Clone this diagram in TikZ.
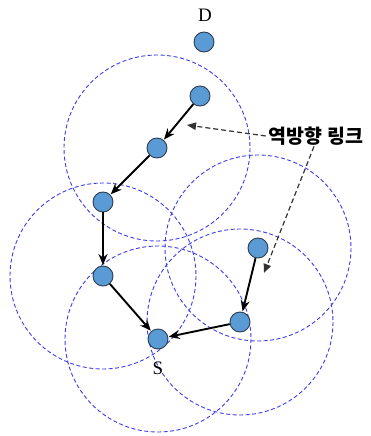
\documentclass[tikz,border=0pt]{standalone}
\usepackage{fontspec}
\setmainfont{Liberation Serif}
\newfontfamily\krfont{Noto Sans CJK KR}
\usetikzlibrary{arrows.meta}
\definecolor{nodefill}{RGB}{91,155,213}
\definecolor{nodeline}{RGB}{45,60,80}
\definecolor{rangeblue}{RGB}{60,60,235}
\tikzset{
  sensor/.style={circle,fill=nodefill,draw=nodeline,line width=0.9pt,minimum size=20pt,inner sep=0pt},
  radiorange/.style={draw=rangeblue,dash pattern=on 4pt off 2.5pt,line width=0.9pt},
  hop/.style={draw=black,line width=1.9pt,-{Stealth[length=11pt,width=9pt]},shorten >=0.5pt},
  revnote/.style={draw=black!80,dash pattern=on 5pt off 3pt,line width=1.2pt,-{Triangle[length=9pt,width=7.5pt]}},
  lbl/.style={font=\fontsize{19}{22}\selectfont,inner sep=0pt}
}
\begin{document}
\begin{tikzpicture}[x=1pt,y=-1pt]
\useasboundingbox (0,0) rectangle (371,436);
% nodes positions
\coordinate (pD) at (204,42);
\coordinate (p1) at (200,96);
\coordinate (p2) at (157,148);
\coordinate (p3) at (103,202);
\coordinate (p4) at (103,276);
\coordinate (pS) at (158,339);
\coordinate (p5) at (258,248);
\coordinate (p6) at (240,322);
% ranges
\draw[radiorange] (p2) circle[radius=93];
\draw[radiorange] (p4) circle[radius=93];
\draw[radiorange] (pS) circle[radius=93];
\draw[radiorange] (p6) circle[radius=93];
\draw[radiorange] (p5) circle[radius=93];
% nodes
\node[sensor] (D) at (pD) {};
\node[sensor] (n1) at (p1) {};
\node[sensor] (n2) at (p2) {};
\node[sensor] (n3) at (p3) {};
\node[sensor] (n4) at (p4) {};
\node[sensor] (S) at (pS) {};
\node[sensor] (n5) at (p5) {};
\node[sensor] (n6) at (p6) {};
\node[lbl] (Dl) at (205,15) {D};
\node[lbl] (Sl) at (158,368) {S};
% hops
\draw[hop] (n1) -- (n2);
\draw[hop] (n2) -- (n3);
\draw[hop] (n3) -- (n4);
\draw[hop] (n4) -- (S);
\draw[hop] (n5) -- (n6);
\draw[hop] (n6) -- (S);
% annotation
\node[inner sep=1pt,font=\krfont\bfseries\fontsize{19.5}{22}\selectfont] (rev) at (316,136) {역방향 링크};
\coordinate (t1) at (187,125);
\coordinate (t2) at (264,273);
\draw[revnote] ([xshift=-2pt]rev.west) -- (t1);
\draw[revnote] ([xshift=-2pt]rev.south) -- (t2);
\end{tikzpicture}
\end{document}
